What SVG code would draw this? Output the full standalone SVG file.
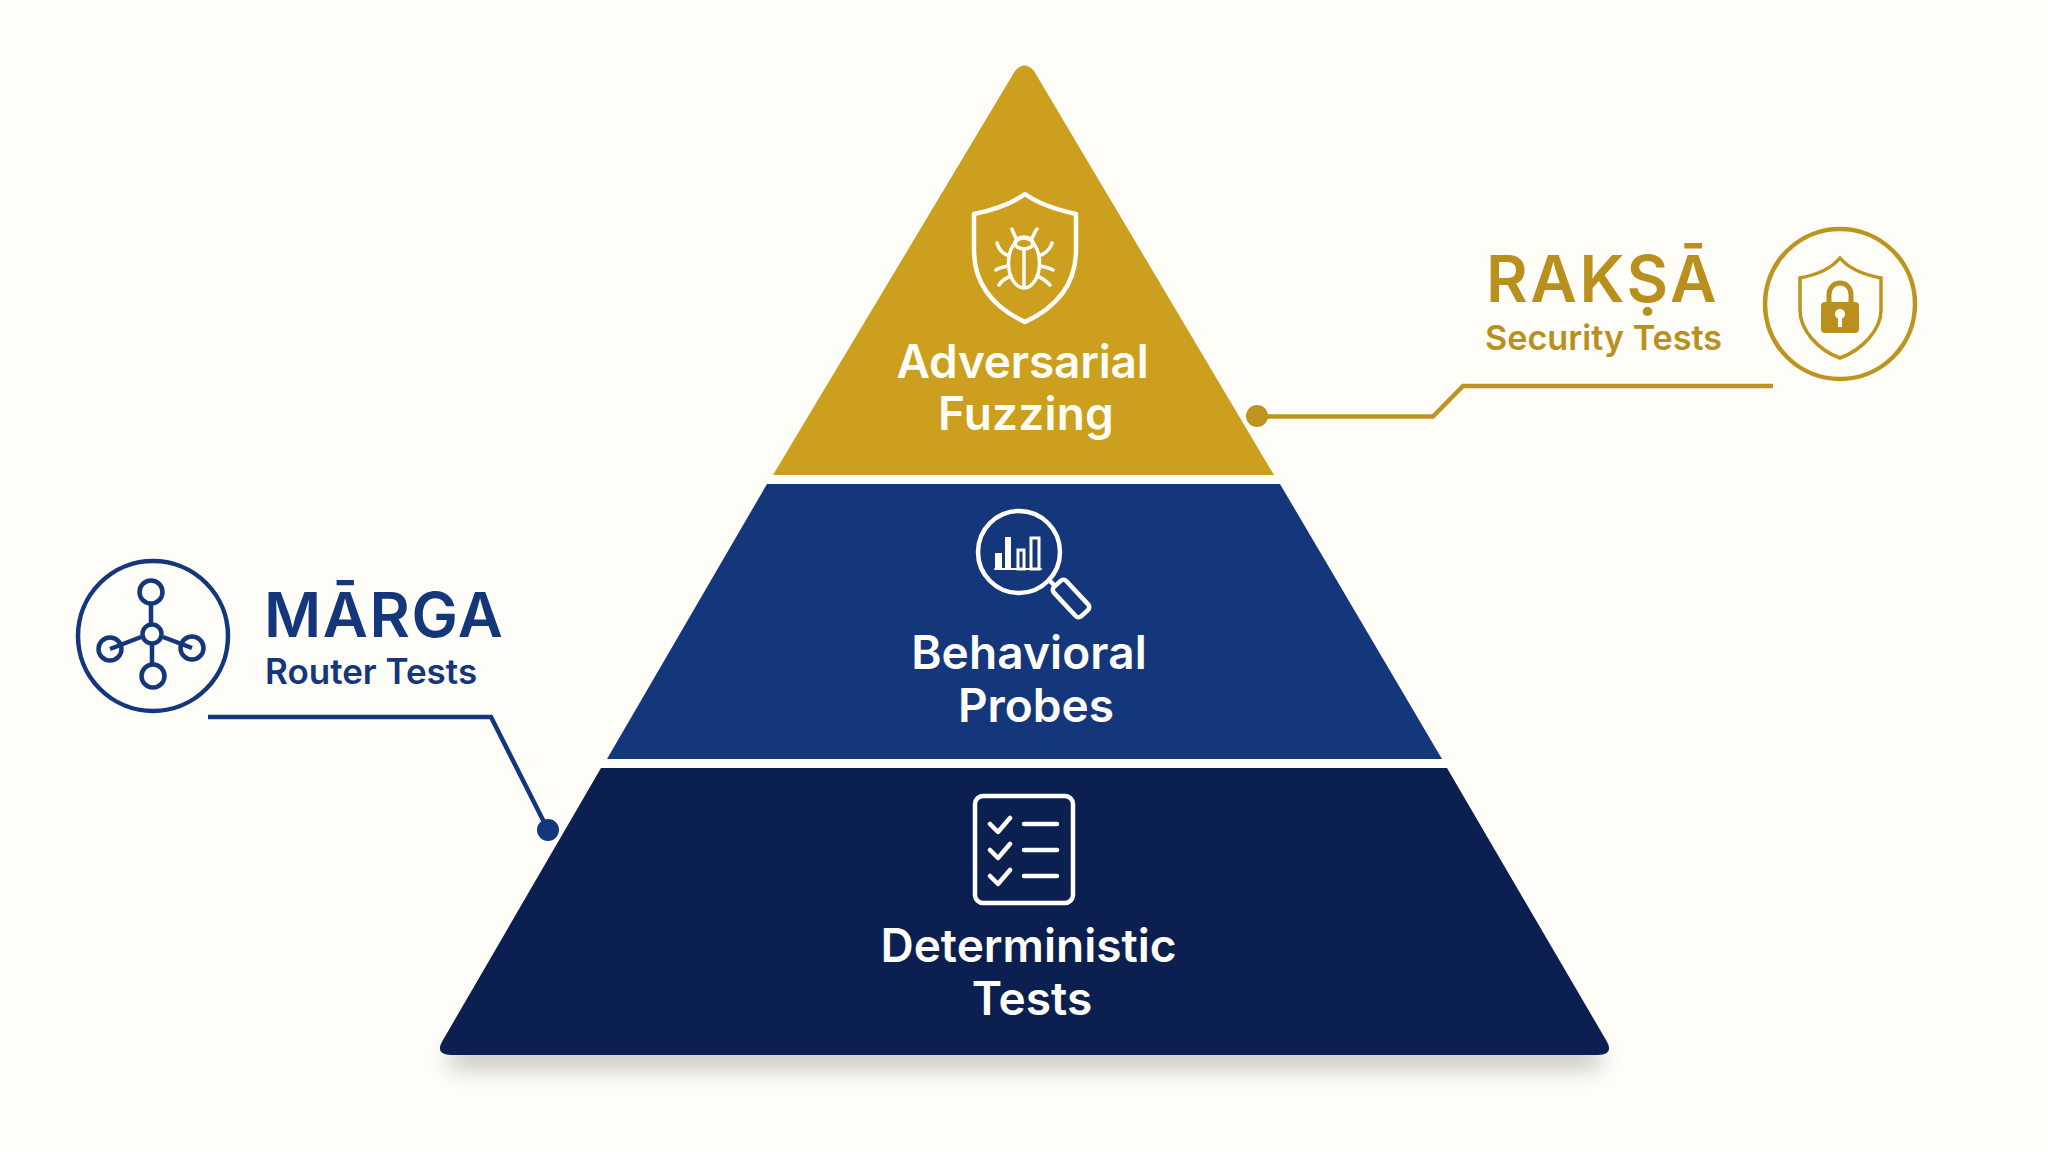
<svg xmlns="http://www.w3.org/2000/svg" width="2048" height="1152" viewBox="0 0 2048 1152">
<style>
text{font-family:"Inter","Liberation Sans",sans-serif;font-weight:600}
.t{fill:#fffdf8;font-size:46px;text-anchor:middle}
.iw{fill:none;stroke:#fffdf8;stroke-width:4.5;stroke-linecap:round;stroke-linejoin:round}
.iw2{fill:none;stroke:#fffdf8;stroke-width:3.5;stroke-linecap:round;stroke-linejoin:round}
.gold{fill:none;stroke:#BE9420;stroke-width:4.5}
.blue{fill:none;stroke:#14377B;stroke-width:4.5}
.gt{fill:#B98F1E}
.bt{fill:#14377B}
</style>
<defs>
<filter id="sh" x="-10%" y="-150%" width="120%" height="400%"><feGaussianBlur stdDeviation="11"/></filter>
</defs>
<rect width="2048" height="1152" fill="#FFFDF8"/>
<rect x="450" y="1048" width="1150" height="20" fill="#6B705F" opacity="0.42" filter="url(#sh)"/>
<g id="connectors">
<path class="gold" d="M1257 416.500H1433L1463 386H1773"/>
<circle cx="1257" cy="416" r="11" fill="#BE9420"/>
<path class="blue" d="M208 717H491L546 826"/>
<circle cx="548" cy="830" r="11" fill="#14377B"/>
</g>
<g id="tier-adversarial">
<path d="M773 475L1015 71Q1024.500 60 1034 71L1274 475Z" fill="#CC9F1E"/>
<path class="iw" d="M1025 194C1040 205 1058 210 1076 214V250C1076 285 1055 308 1025 322C995 308 974 285 974 250V214C993 210 1010 205 1025 194Z"/>
<g class="iw2">
<ellipse cx="1024" cy="263" rx="15.500" ry="25"/>
<ellipse cx="1024" cy="243" rx="9" ry="6"/>
<path d="M1024 249V287"/>
<path d="M1016 238C1013 233 1013 231 1012 229M1032 238C1035 233 1035 231 1037 229"/>
<path d="M1009 256C1001 253 998 247 997 243M1039 256C1047 253 1051 247 1052 243"/>
<path d="M1008 266C1003 267 998 268 996 270M1040 266C1045 267 1050 268 1053 270"/>
<path d="M1011 276C1005 278 1001 282 999 285M1037 276C1043 278 1047 282 1050 285"/>
</g>
<text class="t" x="1022.500" y="378" letter-spacing="-0.2">Adversarial</text>
<text class="t" x="1026" y="430" letter-spacing="0.2">Fuzzing</text>
</g>
<g id="tier-behavioral">
<path d="M767 484H1280L1442 759H607Z" fill="#14377B"/>
<circle class="iw" cx="1019" cy="552" r="41"/>
<path class="iw" d="M1049 580L1054 585"/>
<rect class="iw" x="1051" y="590" width="40" height="17" rx="4" transform="rotate(47 1071 598.500)"/>
<path d="M995 569H1041" class="iw" style="stroke-width:2"/>
<rect x="995" y="553" width="7" height="16" fill="#fffdf8"/>
<rect x="1005" y="537" width="6" height="32" fill="#fffdf8"/>
<rect x="1018" y="550" width="6" height="19" fill="none" stroke="#fffdf8" stroke-width="3"/>
<rect x="1031" y="538" width="8" height="31" fill="none" stroke="#fffdf8" stroke-width="3"/>
<text class="t" x="1029" y="669" letter-spacing="0.1">Behavioral</text>
<text class="t" x="1036" y="722">Probes</text>
</g>
<g id="tier-deterministic">
<path d="M601 768H1447L1606 1040Q1615 1055 1598 1055H451Q434 1055 443 1040Z" fill="#0B1F50"/>
<rect class="iw" x="975" y="796" width="98" height="107" rx="8"/>
<path class="iw" d="M990 824L998 832L1010 818M990 850L998 858L1010 844M990 876L998 884L1010 870M1024 824H1057M1024 850H1057M1024 876H1057"/>
<text class="t" x="1028.500" y="962">Deterministic</text>
<text class="t" x="1032" y="1015">Tests</text>
</g>
<g id="label-raksa">
<text class="gt" x="1486" y="302" font-size="64" letter-spacing="2.600">RAKṢĀ</text>
<text class="gt" x="1485" y="350" font-size="34.200">Security Tests</text>
<circle class="gold" cx="1840" cy="304" r="75"/>
<path d="M1840 258C1850 270 1865 275 1881 278V310C1881 330 1862 350 1840 358C1818 350 1800 330 1800 310V278C1816 275 1830 270 1840 258Z" fill="none" stroke="#BE9420" stroke-width="3.500"/>
<path d="M1829 303V295C1829 279 1851 279 1851 295V303" fill="none" stroke="#B98F1E" stroke-width="5"/>
<rect x="1821" y="302" width="38" height="31" rx="4" fill="#B98F1E"/>
<circle cx="1840" cy="314" r="5" fill="#FFFDF8"/>
<rect x="1838" y="315" width="4" height="12" fill="#FFFDF8"/>
</g>
<g id="label-marga">
<text class="bt" x="264" y="637" font-size="62" letter-spacing="1.600">MĀRGA</text>
<text class="bt" x="265" y="684" font-size="35">Router Tests</text>
<circle class="blue" cx="153" cy="636" r="75"/>
<path class="blue" d="M151 603V624M110 649L141 637M192 648L163 637M152 645V664"/>
<circle class="blue" cx="151" cy="592" r="11.500"/>
<circle class="blue" cx="152" cy="634" r="9.500"/>
<circle class="blue" cx="110" cy="649" r="11.500"/>
<circle class="blue" cx="192" cy="648" r="11.500"/>
<circle class="blue" cx="153" cy="676" r="11.500"/>
</g>
</svg>
